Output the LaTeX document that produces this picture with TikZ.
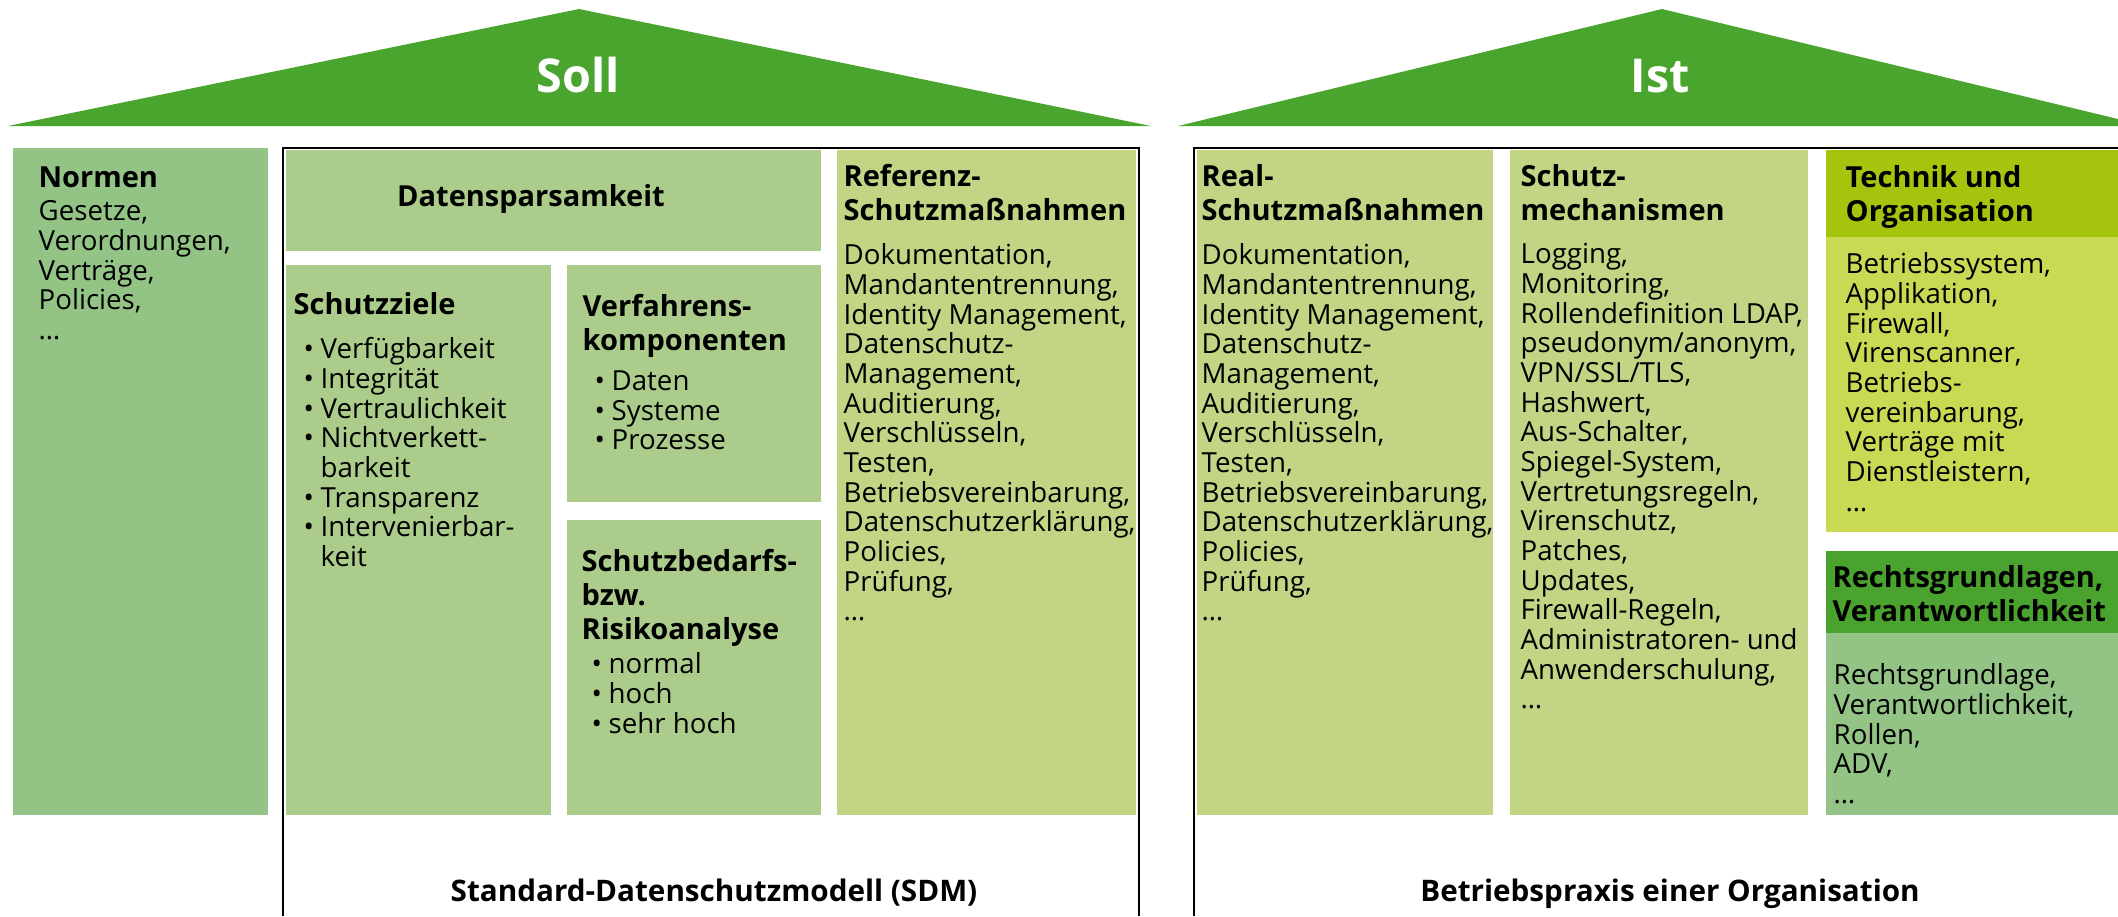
\documentclass[tikz,border=0pt]{standalone}
\usepackage{fontspec}
\setmainfont{Open Sans}
\definecolor{roof}{RGB}{74,165,46}
\definecolor{normgreen}{RGB}{147,196,134}
\definecolor{sdmgreen}{RGB}{171,204,138}
\definecolor{palegreen}{RGB}{193,213,133}
\definecolor{techhead}{RGB}{165,196,14}
\definecolor{techbody}{RGB}{201,217,84}
\definecolor{rechthead}{RGB}{74,163,46}
\newcommand\bul{\makebox[5.1pt][l]{•}}
\newcommand\ind{\hspace*{5.1pt}}

\begin{document}
\begin{tikzpicture}[x=0.3pt, y=-0.3pt,
  head/.style={anchor=north west, inner sep=0pt, align=left,
               font=\fontsize{8.7}{10.2}\selectfont\bfseries},
  body/.style={anchor=north west, inner sep=0pt, align=left,
               font=\fontsize{8.3}{8.9}\selectfont},
  caption/.style={anchor=base, inner sep=0pt, font=\fontsize{8.9}{10}\selectfont\bfseries},
  title/.style={anchor=base, inner sep=0pt, text=white, font=\fontsize{14}{16}\selectfont\bfseries}]
\useasboundingbox (0,0) rectangle (2118,916);

  % roofs
  \fill[roof] (8,126) -- (579,9) -- (1151,126) -- cycle;
  \fill[roof] (1178,126) -- (1662,9) -- (2118,119) -- (2118,126) -- cycle;
  \node[title] (soll) at (578,92) {Soll};
  \node[title] (ist) at (1660,92) {Ist};

  % Soll: norms
  \fill[normgreen] (13,148) rectangle (268,815);
  \node[head] (normen) at (38,166) {Normen};
  \node[body] (normen-list) at (38,200) {Gesetze,\\Verordnungen,\\Verträge,\\Policies,\\…};

  % Soll: standard data protection model
  \draw[line width=0.6pt] (283,916) -- (283,148) -- (1139,148) -- (1139,916);
  \fill[sdmgreen] (286,150) rectangle (821,251);
  \node[anchor=base, inner sep=0pt, font=\fontsize{8.7}{10.2}\selectfont\bfseries]
        (datenspar) at (531,206) {Datensparsamkeit};

  \fill[sdmgreen] (286,265) rectangle (551,815);
  \node[head] (ziele) at (293,292) {Schutzziele};
  \node[body] (ziele-list) at (303,337) {\bul Verfügbarkeit\\\bul Integrität\\\bul Vertraulichkeit\\
        \bul Nichtverkett-\\\ind barkeit\\\bul Transparenz\\\bul Intervenierbar-\\\ind keit};

  \fill[sdmgreen] (567,265) rectangle (821,502);
  \node[head] (verfahren) at (582,294) {Verfahrens-\\komponenten};
  \node[body] (verfahren-list) at (594,370) {\bul Daten\\\bul Systeme\\\bul Prozesse};

  \fill[sdmgreen] (567,520) rectangle (821,815);
  \node[head] (bedarf) at (581,549) {Schutzbedarfs-\\bzw.\\Risikoanalyse};
  \node[body] (bedarf-list) at (591,652) {\bul normal\\\bul hoch\\\bul sehr hoch};

  \fill[palegreen] (837,150) rectangle (1136,815);
  \node[head] (referenz) at (843,164) {Referenz-\\Schutzmaßnahmen};
  \node[body] (referenz-list) at (843,243) {Dokumentation,\\Mandantentrennung,\\Identity Management,\\
        Datenschutz-\\Management,\\Auditierung,\\Verschlüsseln,\\Testen,\\Betriebsvereinbarung,\\
        Datenschutzerklärung,\\Policies,\\Prüfung,\\…};

  \node[caption] (sdm) at (714,901) {Standard-Datenschutzmodell (SDM)};

  % Ist: operational practice
  \draw[line width=0.6pt] (1194,916) -- (1194,148) -- (2118,148);
  \fill[palegreen] (1197,150) rectangle (1493,815);
  \node[head] (real) at (1201,164) {Real-\\Schutzmaßnahmen};
  \node[body] (real-list) at (1201,243) {Dokumentation,\\Mandantentrennung,\\Identity Management,\\
        Datenschutz-\\Management,\\Auditierung,\\Verschlüsseln,\\Testen,\\Betriebsvereinbarung,\\
        Datenschutzerklärung,\\Policies,\\Prüfung,\\…};

  \fill[palegreen] (1510,150) rectangle (1808,815);
  \node[head] (mech) at (1520,164) {Schutz-\\mechanismen};
  \node[body] (mech-list) at (1520,243) {Logging,\\Monitoring,\\
        Rollendefinition LDAP,\\pseudonym/anonym,\\VPN/SSL/TLS,\\Hashwert,\\Aus-Schalter,\\
        Spiegel-System,\\Vertretungsregeln,\\Virenschutz,\\Patches,\\Updates,\\Firewall-Regeln,\\
        Administratoren- und\\Anwenderschulung,\\…};

  \fill[techhead] (1826,150) rectangle (2118,237);
  \fill[techbody] (1826,237) rectangle (2118,532);
  \node[head] (technik) at (1845,165) {Technik und\\Organisation};
  \node[body] (technik-list) at (1845,252) {Betriebssystem,\\Applikation,\\Firewall,\\Virenscanner,\\
        Betriebs-\\vereinbarung,\\Verträge mit\\Dienstleistern,\\…};

  \fill[rechthead] (1826,551) rectangle (2118,633);
  \fill[normgreen] (1826,633) rectangle (2118,815);
  \node[head] (recht) at (1832,565) {Rechtsgrundlagen,\\Verantwortlichkeit};
  \node[body] (recht-list) at (1833,663) {Rechtsgrundlage,\\Verantwortlichkeit,\\Rollen,\\ADV,\\…};

  \node[caption] (praxis) at (1670,901) {Betriebspraxis einer Organisation};
\end{tikzpicture}
\end{document}
